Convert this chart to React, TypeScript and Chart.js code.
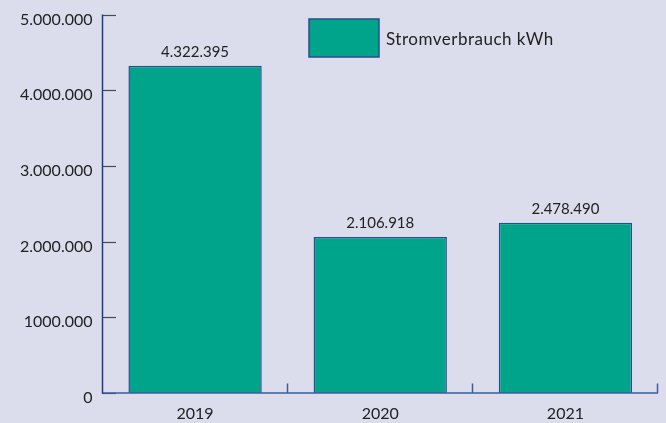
import React, { useEffect, useRef } from "react";
import { Chart, registerables } from "chart.js";

Chart.register(...registerables);

const categories = ["2019", "2020", "2021"];
const barValues = [4322395, 2062000, 2248000];
const valueLabels = ["4.322.395", "2.106.918", "2.478.490"];
const yTickLabels = ["0", "1000.000", "2.000.000", "3.000.000", "4.000.000", "5.000.000"];
const seriesName = "Stromverbrauch kWh";

const BG = "#dbddec";
const TEAL = "#00a48b";
const BAR_BORDER = "#2a4d8c";
const Y_AXIS = "#1c3c8a";
const X_AXIS = "#3d5c9c";
const TEXT = "#222222";
const FONT = "Lato, 'Open Sans', sans-serif";

export default function App() {
  const ref = useRef<HTMLCanvasElement | null>(null);

  useEffect(() => {
    document.body.style.margin = "0";
    document.body.style.background = BG;
    const canvas = ref.current!;

    const bgPlugin = {
      id: "bg",
      beforeDraw(chart: any) {
        const c = chart.ctx;
        c.save();
        c.fillStyle = BG;
        c.fillRect(0, 0, chart.width, chart.height);
        c.restore();
      },
    };

    const axesPlugin = {
      id: "axesDraw",
      afterDatasetsDraw(chart: any) {
        const c = chart.ctx;
        const area = chart.chartArea;
        const y = chart.scales.y;
        c.save();
        // y tick marks
        c.strokeStyle = "#444a58";
        c.lineWidth = 1.2;
        y.ticks.forEach((t: any) => {
          const py = Math.round(y.getPixelForValue(t.value)) + 0.5;
          c.beginPath();
          c.moveTo(area.left, py);
          c.lineTo(area.left + 13.5, py);
          c.stroke();
        });
        // x axis line
        c.strokeStyle = X_AXIS;
        c.lineWidth = 1.5;
        const by = Math.round(area.bottom);
        c.beginPath();
        c.moveTo(area.left, by);
        c.lineTo(area.right, by);
        c.stroke();
        // x tick marks at category boundaries
        const n = categories.length;
        const w = (area.right - area.left) / n;
        for (let i = 1; i <= n; i++) {
          const px = Math.round(area.left + i * w) - 0.5;
          c.beginPath();
          c.moveTo(px, by);
          c.lineTo(px, by - 9.5);
          c.stroke();
        }
        // y axis line
        c.strokeStyle = Y_AXIS;
        c.lineWidth = 1.5;
        c.beginPath();
        c.moveTo(area.left, area.top);
        c.lineTo(area.left, by + 0.75);
        c.stroke();

        // value labels
        const meta = chart.getDatasetMeta(0);
        c.fillStyle = TEXT;
        c.font = `15px ${FONT}`;
        c.textAlign = "center";
        c.textBaseline = "middle";
        meta.data.forEach((bar: any, i: number) => {
          c.fillText(valueLabels[i], bar.x, bar.y - 14);
        });

        // legend
        const ds = chart.data.datasets[0];
        c.fillStyle = ds.backgroundColor;
        c.fillRect(309, 19, 70, 38);
        c.strokeStyle = ds.borderColor;
        c.lineWidth = 1.5;
        c.strokeRect(309, 19, 70, 38);
        c.fillStyle = TEXT;
        c.font = `17px ${FONT}`;
        (c as any).letterSpacing = "0.5px";
        c.textAlign = "left";
        c.textBaseline = "middle";
        c.fillText(ds.label, 386, 40);
        c.restore();
      },
    };

    const chart = new Chart(canvas, {
      type: "bar",
      data: {
        labels: categories,
        datasets: [
          {
            label: seriesName,
            data: barValues,
            backgroundColor: TEAL,
            borderColor: BAR_BORDER,
            borderWidth: 1.5,
            barPercentage: 0.72,
            categoryPercentage: 1,
          },
        ],
      },
      options: {
        animation: false,
        responsive: false,
        devicePixelRatio: 1,
        layout: { padding: { left: 0, right: 8, top: 14.5, bottom: 0 } },
        plugins: {
          legend: { display: false },
          tooltip: { enabled: false },
        },
        scales: {
          x: {
            grid: { display: false, drawTicks: false },
            border: { display: false },
            ticks: {
              color: TEXT,
              font: { family: FONT, size: 16 },
              padding: 11,
            },
            afterFit(scale: any) {
              scale.height = 30;
            },
          },
          y: {
            min: 0,
            max: 5000000,
            grid: { display: false, drawTicks: false },
            border: { display: false },
            ticks: {
              stepSize: 1000000,
              color: TEXT,
              font: { family: FONT, size: 16 },
              padding: 10,
              labelOffset: 5,
              callback: (_v: any, i: number) => yTickLabels[i],
            },
            afterFit(scale: any) {
              scale.width = 102.5;
              scale.paddingTop = 0;
              scale.paddingBottom = 0;
            },
          },
        },
      },
      plugins: [bgPlugin, axesPlugin],
    });
    return () => chart.destroy();
  }, []);

  return (
    <div style={{ width: 666, height: 423, background: BG }}>
      <canvas ref={ref} width={666} height={423} style={{ display: "block" }} />
    </div>
  );
}
